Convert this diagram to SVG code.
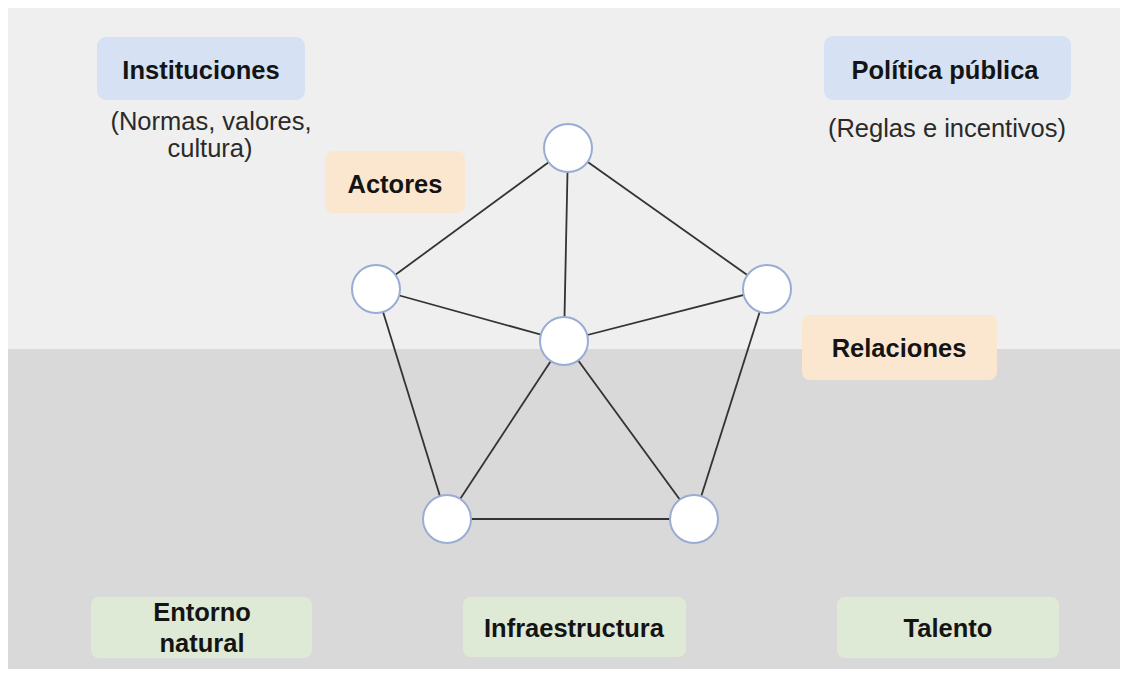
<svg xmlns="http://www.w3.org/2000/svg" width="1122" height="679" viewBox="0 0 1122 679">
<style>
.bold{font-family:"Liberation Sans",Arial,sans-serif;font-weight:bold;font-size:25.5px;fill:#141414;text-anchor:middle}
.reg{font-family:"Liberation Sans",Arial,sans-serif;font-size:25.5px;fill:#2a2a2a;text-anchor:middle}
.blue{fill:#d6e2f3}
.orange{fill:#fbe7cf}
.green{fill:#deead5}
.edge{stroke:#333;stroke-width:1.8;fill:none}
.node{fill:#fff;stroke:#9aacd3;stroke-width:2}
</style>
<rect x="0" y="0" width="1122" height="679" fill="#fff"/>
<rect x="8" y="8" width="1112" height="341" fill="#efefef"/>
<rect x="8" y="349" width="1112" height="320" fill="#d9d9d9"/>

<g id="instituciones">
<rect class="blue" x="97" y="37" width="208" height="63" rx="9"/>
<text class="bold" x="201" y="79">Instituciones</text>
<text class="reg" x="211" y="130">(Normas, valores,</text>
<text class="reg" x="210" y="157">cultura)</text>
</g>
<g id="politica">
<rect class="blue" x="824" y="36" width="247" height="64" rx="9"/>
<text class="bold" x="945" y="79">Política pública</text>
<text class="reg" x="947" y="137">(Reglas e incentivos)</text>
</g>
<g id="actores">
<rect class="orange" x="325" y="151" width="140" height="62" rx="8"/>
<text class="bold" x="395" y="193">Actores</text>
</g>
<g id="relaciones">
<rect class="orange" x="802" y="315" width="195" height="65" rx="8"/>
<text class="bold" x="899" y="357">Relaciones</text>
</g>
<g id="entorno">
<rect class="green" x="91" y="597" width="221" height="61" rx="8"/>
<text class="bold" x="202" y="621">Entorno</text>
<text class="bold" x="202" y="652">natural</text>
</g>
<g id="infraestructura">
<rect class="green" x="463" y="597" width="223" height="60" rx="8"/>
<text class="bold" x="574" y="637">Infraestructura</text>
</g>
<g id="talento">
<rect class="green" x="837" y="597" width="222" height="61" rx="8"/>
<text class="bold" x="948" y="637">Talento</text>
</g>

<g id="connectors">
<line class="edge" x1="568" y1="148" x2="376" y2="289"/>
<line class="edge" x1="568" y1="148" x2="767" y2="289"/>
<line class="edge" x1="568" y1="148" x2="564" y2="341"/>
<line class="edge" x1="376" y1="289" x2="564" y2="341"/>
<line class="edge" x1="767" y1="289" x2="564" y2="341"/>
<line class="edge" x1="376" y1="289" x2="447" y2="519"/>
<line class="edge" x1="767" y1="289" x2="694" y2="519"/>
<line class="edge" x1="564" y1="341" x2="447" y2="519"/>
<line class="edge" x1="564" y1="341" x2="694" y2="519"/>
<line class="edge" x1="447" y1="519" x2="694" y2="519"/>
</g>

<g id="node-top"><circle class="node" cx="568" cy="148" r="24"/></g>
<g id="node-left"><circle class="node" cx="376" cy="289" r="24"/></g>
<g id="node-right"><circle class="node" cx="767" cy="289" r="24"/></g>
<g id="node-center"><circle class="node" cx="564" cy="341" r="24"/></g>
<g id="node-bottom-left"><circle class="node" cx="447" cy="519" r="24"/></g>
<g id="node-bottom-right"><circle class="node" cx="694" cy="519" r="24"/></g>
</svg>
